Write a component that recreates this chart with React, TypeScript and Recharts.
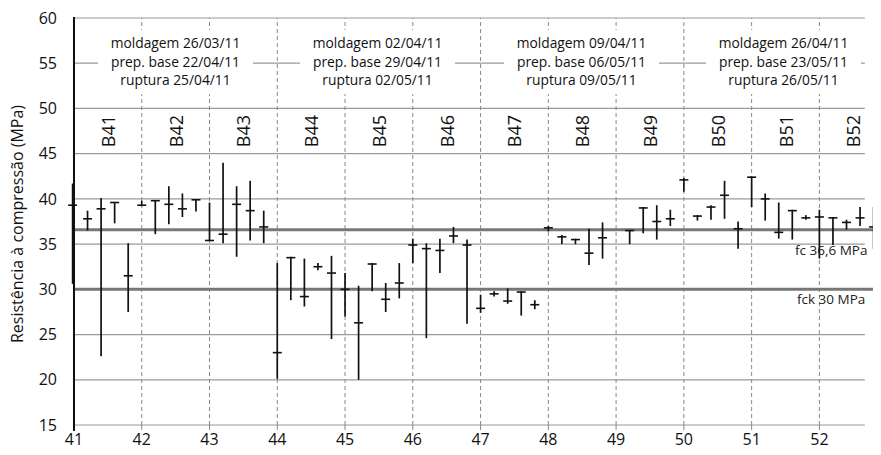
import React from "react";
import {
  ComposedChart,
  Scatter,
  ErrorBar,
  XAxis,
  YAxis,
  ReferenceLine,
} from "recharts";

// specimen positions (batch number + offset), mean, min, max (MPa)
const specimenX = [
  40.98, 41.2, 41.4, 41.6, 41.8, 42.0, 42.2, 42.4, 42.6, 42.8,
  43.0, 43.2, 43.4, 43.6, 43.8, 44.0, 44.2, 44.4, 44.6, 44.8,
  45.0, 45.2, 45.4, 45.6, 45.8, 46.0, 46.2, 46.4, 46.6, 46.8,
  47.0, 47.2, 47.4, 47.6, 47.8, 48.0, 48.2, 48.4, 48.6, 48.8,
  49.2, 49.4, 49.6, 49.8, 50.0, 50.2, 50.4, 50.6, 50.8,
  51.0, 51.2, 51.4, 51.6, 51.8, 52.0, 52.2, 52.4, 52.6, 52.8,
];
const meanValues = [
  39.3, 37.8, 38.9, 39.6, 31.5, 39.3, 39.8, 39.4, 38.9, 39.9,
  35.4, 36.1, 39.4, 38.7, 36.9, 23.0, 33.5, 29.2, 32.5, 31.8,
  30.0, 26.3, 32.8, 28.9, 30.7, 34.9, 34.5, 34.3, 35.9, 34.9,
  27.9, 29.5, 28.7, 29.7, 28.3, 36.8, 35.8, 35.5, 34.0, 35.7,
  36.5, 39.0, 37.5, 37.8, 42.1, 38.1, 39.1, 40.4, 36.7,
  42.4, 40.0, 36.3, 38.7, 37.9, 38.0, 37.9, 37.4, 37.9, 36.9,
];
const minValues = [
  30.6, 36.5, 22.6, 37.3, 27.5, 39.2, 36.1, 37.2, 38.0, 38.6,
  35.4, 35.1, 33.6, 35.4, 35.1, 20.1, 28.8, 28.1, 32.1, 24.5,
  27.0, 20.0, 29.8, 27.5, 29.0, 32.9, 24.6, 31.8, 35.1, 26.2,
  27.4, 29.2, 28.4, 27.1, 27.8, 36.4, 35.0, 35.0, 32.7, 33.4,
  35.0, 36.2, 35.5, 37.0, 40.8, 37.6, 37.7, 37.8, 34.5,
  39.1, 37.6, 35.6, 35.5, 37.7, 33.4, 34.9, 36.6, 37.0, 34.5,
];
const maxValues = [
  41.7, 38.7, 40.1, 39.6, 35.1, 39.8, 39.8, 41.4, 40.6, 39.9,
  39.6, 44.0, 41.4, 42.0, 38.7, 32.9, 33.6, 33.4, 32.9, 33.7,
  31.8, 30.4, 32.9, 30.7, 32.9, 35.6, 35.1, 35.6, 36.9, 35.5,
  29.4, 29.8, 30.1, 29.8, 28.8, 37.0, 36.0, 35.6, 36.7, 37.4,
  36.5, 39.1, 39.3, 38.8, 42.3, 38.2, 39.3, 42.0, 37.5,
  42.5, 40.6, 39.6, 38.8, 38.2, 38.8, 38.0, 37.7, 39.1, 39.1,
];

const batchNames = ["B41", "B42", "B43", "B44", "B45", "B46", "B47", "B48", "B49", "B50", "B51", "B52"];
const batchLabelX = [41.5, 42.5, 43.5, 44.5, 45.5, 46.5, 47.5, 48.5, 49.5, 50.5, 51.5, 52.5];
const batchLabelY = 47.5;

const xTicks = [41, 42, 43, 44, 45, 46, 47, 48, 49, 50, 51, 52];
const yTicks = [15, 20, 25, 30, 35, 40, 45, 50, 55, 60];

const FC = 36.6;
const FCK = 30;

const dateGroups = [
  ["moldagem 26/03/11", "prep. base 22/04/11", "ruptura 25/04/11"],
  ["moldagem 02/04/11", "prep. base 29/04/11", "ruptura 02/05/11"],
  ["moldagem 09/04/11", "prep. base 06/05/11", "ruptura 09/05/11"],
  ["moldagem 26/04/11", "prep. base 23/05/11", "ruptura 26/05/11"],
];
const groupBoxLeft = [98, 300, 504, 706];

const points = specimenX.map((x, i) => ({
  x,
  y: meanValues[i],
  err: [meanValues[i] - minValues[i], maxValues[i] - meanValues[i]],
}));
const labelPoints = batchNames.map((name, i) => ({ x: batchLabelX[i], y: batchLabelY, name }));

const FONT = "'Open Sans', sans-serif";

const MeanTick = (props: any) => {
  const { cx, cy } = props;
  return <line x1={cx - 4.5} x2={cx + 4.5} y1={cy} y2={cy} stroke="#111" strokeWidth={1.6} />;
};

const BatchLabel = (props: any) => {
  const { cx, cy, payload } = props;
  return (
    <text
      x={cx}
      y={cy}
      transform={`rotate(-90 ${cx} ${cy})`}
      textAnchor="middle"
      dominantBaseline="central"
      fontSize={18}
      fontFamily={FONT}
      fill="#111"
    >
      {payload.name}
    </text>
  );
};

export default function App() {
  return (
    <div style={{ position: "relative", width: 881, height: 455, margin: -8, background: "#fff", fontFamily: FONT }}>
      <ComposedChart width={881} height={455} margin={{ top: 18, right: 4, left: 0, bottom: 0 }}>
        <XAxis
          dataKey="x"
          type="number"
          domain={[40.956, 52.85]}
          ticks={xTicks}
          axisLine={false}
          tickLine={{ stroke: "#888" }}
          tickSize={5}
          tickMargin={4}
          height={30}
          tick={{ fill: "#111", fontSize: 16, fontFamily: FONT }}
        />
        <YAxis
          dataKey="y"
          type="number"
          domain={[15, 60]}
          ticks={yTicks}
          width={71}
          axisLine={false}
          tickLine={false}
          tickSize={6}
          tickMargin={8}
          tick={{ fill: "#111", fontSize: 16, fontFamily: FONT }}
        />
        {yTicks.map((v) => (
          <ReferenceLine
            key={"h" + v}
            segment={[{ x: 41, y: v }, { x: 52.67, y: v }]}
            stroke="#9a9a9a"
            strokeWidth={1.2}
          />
        ))}
        {xTicks.slice(1).map((v) => (
          <ReferenceLine key={"v" + v} x={v} stroke="#888" strokeDasharray="4 3" strokeWidth={1} />
        ))}
        <ReferenceLine
          segment={[{ x: 41, y: FC }, { x: 53, y: FC }]}
          ifOverflow="visible"
          stroke="#777"
          strokeWidth={3}
        />
        <ReferenceLine
          segment={[{ x: 41, y: FCK }, { x: 53, y: FCK }]}
          ifOverflow="visible"
          stroke="#777"
          strokeWidth={3}
        />
        <ReferenceLine x={41} stroke="#111" strokeWidth={2} />
        <Scatter data={points} shape={MeanTick} isAnimationActive={false}>
          <ErrorBar dataKey="err" direction="y" width={0} stroke="#111" strokeWidth={1.7} isAnimationActive={false} />
        </Scatter>
        <Scatter data={labelPoints} shape={BatchLabel} isAnimationActive={false} />
      </ComposedChart>

      {/* y axis line */}
      <div style={{ position: "absolute", left: 73, top: 17, width: 2, height: 414, background: "#111", zIndex: 5 }} />

      {dateGroups.map((lines, i) => (
        <div
          key={i}
          style={{
            position: "absolute",
            left: groupBoxLeft[i],
            top: 30,
            width: 155,
            height: 64,
            background: "#fff",
            textAlign: "center",
            fontSize: 13.8,
            lineHeight: "18.5px",
            paddingTop: 4,
            boxSizing: "border-box",
            color: "#111",
          }}
        >
          {lines.map((t) => (
            <div key={t}>{t}</div>
          ))}
        </div>
      ))}

      <div style={{ position: "absolute", left: 795, top: 241, fontSize: 13.5, color: "#222", whiteSpace: "nowrap" }}>
        fc 36,6 MPa
      </div>
      <div style={{ position: "absolute", left: 797, top: 290, fontSize: 13.5, color: "#222", whiteSpace: "nowrap" }}>
        fck 30 MPa
      </div>
      <div
        style={{
          position: "absolute",
          left: 17,
          top: 224,
          transform: "translate(-50%, -50%) rotate(-90deg)",
          fontSize: 16,
          color: "#111",
          whiteSpace: "nowrap",
        }}
      >
        Resistência à compressão (MPa)
      </div>
    </div>
  );
}
